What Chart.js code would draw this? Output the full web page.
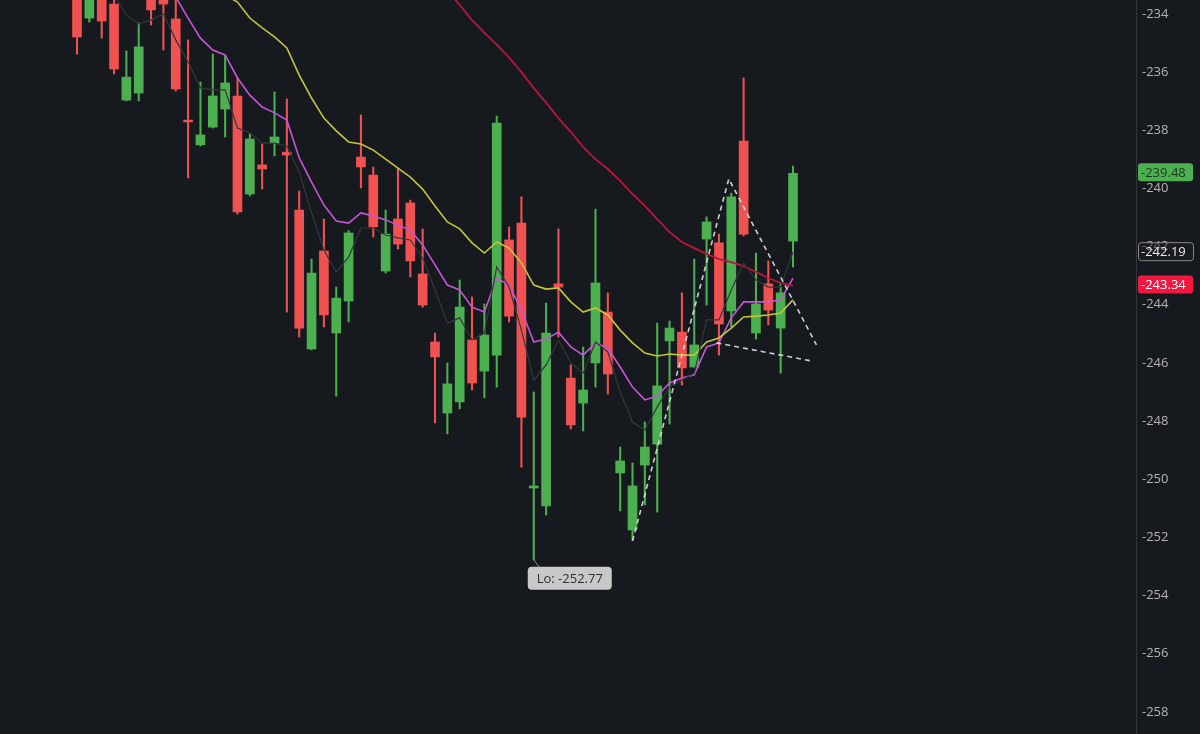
<!DOCTYPE html>
<html><head><meta charset="utf-8">
<script src="https://cdn.jsdelivr.net/npm/chart.js@4.4.1/dist/chart.umd.min.js"></script>
<style>html,body{margin:0;padding:0;background:#161a1f;overflow:hidden}#wrap{width:1200px;height:734px}</style>
</head><body><div id="wrap"><canvas id="c" width="1200" height="734"></canvas></div>
<script>
const opens = [-233.00,-234.14,-233.24,-233.66,-236.96,-236.72,-233.24,-233.31,-234.17,-237.65,
-238.50,-237.89,-237.27,-236.82,-240.19,-239.19,-238.44,-238.75,-240.74,-245.52,
-242.15,-244.97,-243.87,-238.92,-239.54,-242.84,-241.05,-240.50,-242.94,-245.28,
-247.72,-247.34,-245.21,-246.28,-245.73,-241.77,-241.19,-250.30,-250.92,-243.28,
-246.52,-247.38,-246.00,-244.25,-249.78,-251.74,-249.51,-248.79,-245.24,-244.94,
-246.14,-241.74,-241.87,-244.21,-238.37,-244.97,-243.28,-244.80,-241.81];
const closes = [-234.79,-233.35,-234.24,-235.89,-236.17,-235.13,-233.86,-233.66,-236.58,-237.71,
-238.16,-236.82,-236.37,-240.81,-238.30,-239.33,-238.23,-238.85,-244.80,-242.91,
-244.35,-243.77,-241.53,-239.26,-241.32,-241.57,-241.91,-242.49,-244.01,-245.79,
-246.72,-244.08,-246.69,-245.04,-237.75,-244.39,-247.86,-250.23,-244.97,-243.39,
-248.13,-246.93,-243.25,-246.38,-249.37,-250.23,-248.89,-246.79,-244.80,-246.17,
-245.38,-241.15,-244.66,-240.29,-241.57,-243.97,-244.18,-243.59,-239.48];
const highs = [-232.66,-233.20,-233.10,-233.42,-235.27,-234.31,-233.10,-233.00,-233.40,-234.89,
-236.34,-235.38,-235.44,-236.20,-238.13,-238.47,-236.68,-236.92,-240.09,-242.43,
-241.05,-243.39,-241.45,-237.47,-239.26,-240.74,-239.30,-240.40,-241.39,-244.97,
-246.00,-243.15,-243.73,-243.97,-237.51,-241.32,-240.29,-247.00,-243.94,-241.39,
-246.07,-245.45,-240.71,-243.59,-248.89,-249.44,-248.03,-244.63,-244.56,-243.59,
-242.43,-240.98,-241.57,-240.16,-236.20,-242.22,-242.49,-243.28,-239.23];
const lows = [-235.38,-234.28,-234.83,-236.06,-236.99,-236.99,-234.38,-235.24,-236.65,-239.64,
-238.54,-237.92,-238.23,-240.88,-240.26,-240.02,-238.88,-244.25,-245.11,-245.55,
-244.76,-247.14,-244.59,-239.98,-241.67,-242.91,-242.08,-243.04,-244.08,-248.06,
-248.44,-247.58,-246.93,-247.20,-246.83,-244.59,-249.58,-252.77,-251.23,-245.11,
-248.27,-248.34,-246.83,-247.07,-251.09,-252.09,-250.88,-251.13,-248.10,-246.76,
-246.14,-244.01,-245.73,-244.76,-241.63,-245.18,-244.69,-246.35,-242.70];

const grayAvg = [null,null,null,-233.35,-234.03,-234.34,-234.21,-234.00,-234.89,-235.65,
-236.54,-236.61,-236.61,-237.92,-238.09,-238.44,-238.44,-238.54,-239.43,-240.84,
-242.12,-242.87,-242.36,-241.36,-241.36,-241.60,-241.70,-241.77,-242.39,-243.49,
-244.63,-244.45,-245.21,-244.97,-242.70,-243.39,-244.87,-246.59,-246.07,-245.21,
-246.00,-246.35,-245.28,-245.62,-247.00,-248.03,-248.31,-247.51,-246.83,-246.59,
-246.35,-244.52,-244.52,-243.49,-242.56,-243.15,-243.39,-243.39,-242.19];
const magentaAvg = [null,null,null,null,null,null,null,null,-233.42,-234.14,
-234.83,-235.24,-235.41,-236.20,-236.79,-237.20,-237.40,-237.65,-238.95,-239.78,
-240.57,-241.12,-241.19,-240.84,-240.95,-241.08,-241.26,-241.43,-241.94,-242.63,
-243.32,-243.49,-244.08,-244.25,-243.08,-243.32,-244.18,-245.28,-245.18,-244.94,
-245.45,-245.73,-245.31,-245.49,-246.14,-246.83,-247.27,-247.14,-246.69,-246.52,
-246.41,-245.45,-245.31,-244.45,-243.90,-243.90,-243.90,-243.83,-243.08];
const yellowAvg = [null,null,null,null,null,null,null,null,null,null,
null,null,-233.35,-233.59,-234.14,-234.48,-234.79,-235.17,-236.10,-236.89,
-237.58,-238.02,-238.40,-238.47,-238.68,-238.99,-239.30,-239.61,-240.02,-240.60,
-241.15,-241.39,-241.87,-242.22,-241.84,-242.05,-242.56,-243.32,-243.46,-243.42,
-243.90,-244.25,-244.11,-244.35,-244.87,-245.31,-245.66,-245.76,-245.69,-245.73,
-245.73,-245.28,-245.14,-244.80,-244.42,-244.39,-244.35,-244.28,-243.83];
const crimsonAvg = [null,null,null,null,null,null,null,null,null,null,
null,null,null,null,null,null,null,null,null,null,
null,null,null,null,null,null,null,null,null,null,
-233.17,-233.69,-234.21,-234.65,-235.05,-235.50,-236.00,-236.55,-237.05,-237.58,
-238.06,-238.57,-238.99,-239.33,-239.74,-240.19,-240.60,-241.05,-241.50,-241.84,
-242.05,-242.25,-242.43,-242.53,-242.67,-242.87,-243.08,-243.25,-243.34];

const wedgeIdx = [45.0, 52.8, 59.9];
const wedgeVal = [-252.12, -239.67, -245.38];
const baseIdx = [51.8, 59.5];
const baseVal = [-245.31, -245.93];

const tickValues = [-234,-236,-238,-240,-242,-244,-246,-248,-250,-252,-254,-256,-258];
const priceTags = [
  {value: -239.48, text: '-239.48', bg: '#4caf50', fg: '#1b3a1c', border: null},
  {value: -242.19, text: '-242.19', bg: 'rgba(28,30,34,0.45)', fg: '#ececec', border: '#8a8a8a'},
  {value: -243.34, text: '-243.34', bg: '#f2183f', fg: '#ffffff', border: null}
];
const lowTag = {index: 37, value: -252.77, text: 'Lo: -252.77'};

const UP = '#4caf50', DOWN = '#f05252';
const n = closes.length;
const idx = Array.from({length: n}, (_, i) => i);
const candleColors = idx.map(i => closes[i] >= opens[i] ? UP : DOWN);
const lineData = arr => idx.filter(i => arr[i] !== null).map(i => ({x: i, y: arr[i]}));

const overlay = {
  id: 'overlay',
  afterDatasetsDraw(chart) {
    const ctx = chart.ctx, ys = chart.scales.y, xs = chart.scales.x;
    ctx.save();
    ctx.strokeStyle = '#33373d'; ctx.lineWidth = 1;
    ctx.beginPath(); ctx.moveTo(chart.chartArea.right + 0.5, 0); ctx.lineTo(chart.chartArea.right + 0.5, 734); ctx.stroke();
    ctx.font = '13px "Open Sans"';
    ctx.textBaseline = 'middle';
    const left = chart.chartArea.right + 2;
    priceTags.forEach(t => {
      const y = ys.getPixelForValue(t.value);
      const w = 55, h = 18;
      ctx.fillStyle = t.bg;
      ctx.beginPath(); ctx.roundRect(left, y - h / 2 - 1, w, h, 3); ctx.fill();
      if (t.border) { ctx.strokeStyle = t.border; ctx.lineWidth = 1; ctx.beginPath(); ctx.roundRect(left + 0.5, y - h / 2 - 0.5, w, h, 3); ctx.stroke(); }
      ctx.fillStyle = t.fg; ctx.textAlign = 'left';
      ctx.fillText(t.text, left + 3, y);
    });
    const lx = xs.getPixelForValue(lowTag.index), ly = ys.getPixelForValue(lowTag.value);
    ctx.strokeStyle = '#8d8d8d'; ctx.lineWidth = 1;
    ctx.beginPath(); ctx.moveTo(lx, ly); ctx.lineTo(lx + 6, ly + 8); ctx.stroke();
    const bx = lx - 6, by = ly + 7, bw = 84, bh = 23;
    ctx.fillStyle = '#c8c8c8';
    ctx.beginPath(); ctx.roundRect(bx, by, bw, bh, 4); ctx.fill();
    ctx.fillStyle = '#2e2e2e'; ctx.textAlign = 'center';
    ctx.fillText(lowTag.text, bx + bw / 2, by + bh / 2 + 1);
    ctx.restore();
  }
};

new Chart(document.getElementById('c'), {
  data: {
    datasets: [
      {type: 'line', data: lineData(grayAvg), borderColor: '#34373d', borderWidth: 1.2, pointRadius: 0, tension: 0, order: 2},
      {type: 'bar', data: idx.map(i => ({x: i, y: [lows[i], highs[i]]})), backgroundColor: candleColors, barThickness: 1.4, grouped: false, order: 4},
      {type: 'bar', data: idx.map(i => ({x: i, y: [opens[i], closes[i]]})), backgroundColor: candleColors, barThickness: 9, grouped: false, order: 3},
      {type: 'line', data: lineData(crimsonAvg), borderColor: '#b8163c', borderWidth: 1.8, pointRadius: 0, tension: 0, order: 2},
      {type: 'line', data: lineData(yellowAvg), borderColor: '#c4c43a', borderWidth: 1.6, pointRadius: 0, tension: 0, order: 2},
      {type: 'line', data: lineData(magentaAvg), borderColor: '#c655d6', borderWidth: 1.6, pointRadius: 0, tension: 0, order: 2},
      {type: 'line', data: wedgeIdx.map((x, i) => ({x, y: wedgeVal[i]})), borderColor: 'rgba(225,225,225,0.9)', borderWidth: 1.6, borderDash: [5, 4], pointRadius: 0, tension: 0, order: 1},
      {type: 'line', data: baseIdx.map((x, i) => ({x, y: baseVal[i]})), borderColor: 'rgba(225,225,225,0.9)', borderWidth: 1.6, borderDash: [5, 4], pointRadius: 0, tension: 0, order: 1}
    ]
  },
  options: {
    responsive: false, animation: false, devicePixelRatio: 1,
    layout: {padding: 0},
    plugins: {legend: {display: false}, tooltip: {enabled: false}},
    scales: {
      x: {type: 'linear', min: -6.2375, max: 85.785, display: false, offset: false},
      y: {
        position: 'right', min: -258.759, max: -233.519,
        grid: {display: false, drawTicks: false},
        border: {display: false},
        afterBuildTicks: s => { s.ticks = tickValues.map(v => ({value: v})); },
        afterFit: s => { s.width = 64; s.paddingTop = 0; s.paddingBottom = 0; },
        ticks: {color: '#b3b3b3', font: {family: 'Open Sans', size: 13}, padding: 6, callback: v => String(v)}
      }
    }
  },
  plugins: [overlay]
});
</script>
</body></html>
